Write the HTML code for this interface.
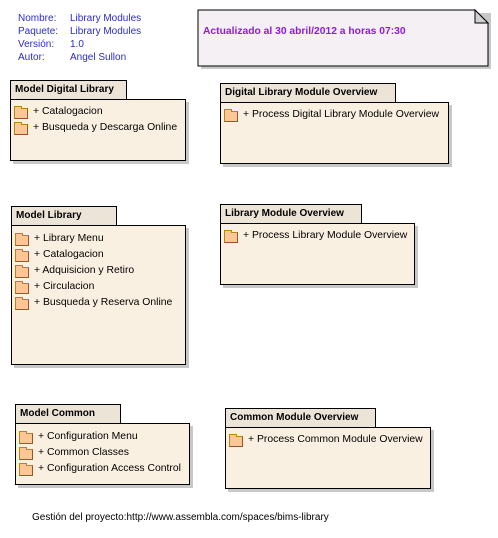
<!DOCTYPE html>
<html><head><meta charset="utf-8"><style>
body{margin:0;width:498px;height:538px;background:#fff;position:relative;overflow:hidden;font-family:"Liberation Sans",Arial,sans-serif;font-size:10px;}
.a{position:absolute;}
.meta{color:#2b2bd0;line-height:13px;white-space:nowrap;}
.tab{position:absolute;background:#ede4d8;border:1px solid #000;box-sizing:border-box;font-weight:bold;font-size:10px;padding:3px 0 0 4px;white-space:nowrap;}
.body{position:absolute;background:#faf0e2;border:1px solid #000;box-sizing:border-box;box-shadow:3px 3px 0 #c8c8c8;}
.it{position:absolute;left:2px;height:16px;white-space:nowrap;line-height:16px;padding-left:20px;font-size:10.4px;margin-top:2px;}
.it:before{content:"";position:absolute;left:1px;top:4px;width:12px;height:9px;background:#fcc696;border:1px solid #b8860b;border-right-color:#a0522d;border-bottom-color:#a0522d;}
.it:after{content:"";position:absolute;left:1px;top:2px;width:6px;height:2px;border:1px solid #b8860b;border-bottom:none;background:#fcc696;}
</style></head><body>
<div class="a meta" style="left:18px;top:12px;">Nombre:<br>Paquete:<br>Versión:<br>Autor:</div>
<div class="a meta" style="left:70px;top:12px;">Library Modules<br>Library Modules<br>1.0<br>Angel Sullon</div>

<svg class="a" style="left:196px;top:8px;" width="300" height="62">
<polygon points="5,5 295,5 295,61 5,61" fill="#c8c8c8"/>
<polygon points="2,2 279,2 292,15 292,58 2,58" fill="#f4f0f4" stroke="#000" stroke-width="1"/>
<polygon points="279,2 292,15 279,15" fill="#d0d0d4" stroke="#000" stroke-width="1"/>
<text x="7" y="26" font-family="Liberation Sans,Arial,sans-serif" font-size="10.3" font-weight="bold" fill="#8c1ae0">Actualizado al 30 abril/2012 a horas 07:30</text>
</svg>

<div class="body" style="left:10px;top:99px;width:176px;height:62px;">
<div class="it" style="top:2px;">+ Catalogacion</div>
<div class="it" style="top:18px;">+ Busqueda y Descarga Online</div>
</div>
<div class="tab" style="left:10px;top:80px;width:117px;height:20px;">Model Digital Library</div>

<div class="body" style="left:220px;top:102px;width:229px;height:62px;">
<div class="it" style="top:2px;">+ Process Digital Library Module Overview</div>
</div>
<div class="tab" style="left:220px;top:83px;width:176px;height:20px;">Digital Library Module Overview</div>

<div class="body" style="left:11px;top:225px;width:175px;height:140px;">
<div class="it" style="top:3px;">+ Library Menu</div>
<div class="it" style="top:19px;">+ Catalogacion</div>
<div class="it" style="top:35px;">+ Adquisicion y Retiro</div>
<div class="it" style="top:51px;">+ Circulacion</div>
<div class="it" style="top:67px;">+ Busqueda y Reserva Online</div>
</div>
<div class="tab" style="left:11px;top:206px;width:106px;height:20px;">Model Library</div>

<div class="body" style="left:220px;top:223px;width:195px;height:62px;">
<div class="it" style="top:2px;">+ Process Library Module Overview</div>
</div>
<div class="tab" style="left:220px;top:204px;width:142px;height:20px;">Library Module Overview</div>

<div class="body" style="left:15px;top:423px;width:175px;height:62px;">
<div class="it" style="top:3px;">+ Configuration Menu</div>
<div class="it" style="top:19px;">+ Common Classes</div>
<div class="it" style="top:35px;">+ Configuration Access Control</div>
</div>
<div class="tab" style="left:15px;top:404px;width:106px;height:20px;">Model Common</div>

<div class="body" style="left:225px;top:427px;width:206px;height:62px;">
<div class="it" style="top:2px;">+ Process Common Module Overview</div>
</div>
<div class="tab" style="left:225px;top:408px;width:151px;height:20px;">Common Module Overview</div>

<div class="a" style="left:32px;top:512px;white-space:nowrap;color:#000;">Gestión del proyecto:http://www.assembla.com/spaces/bims-library</div>
</body></html>
